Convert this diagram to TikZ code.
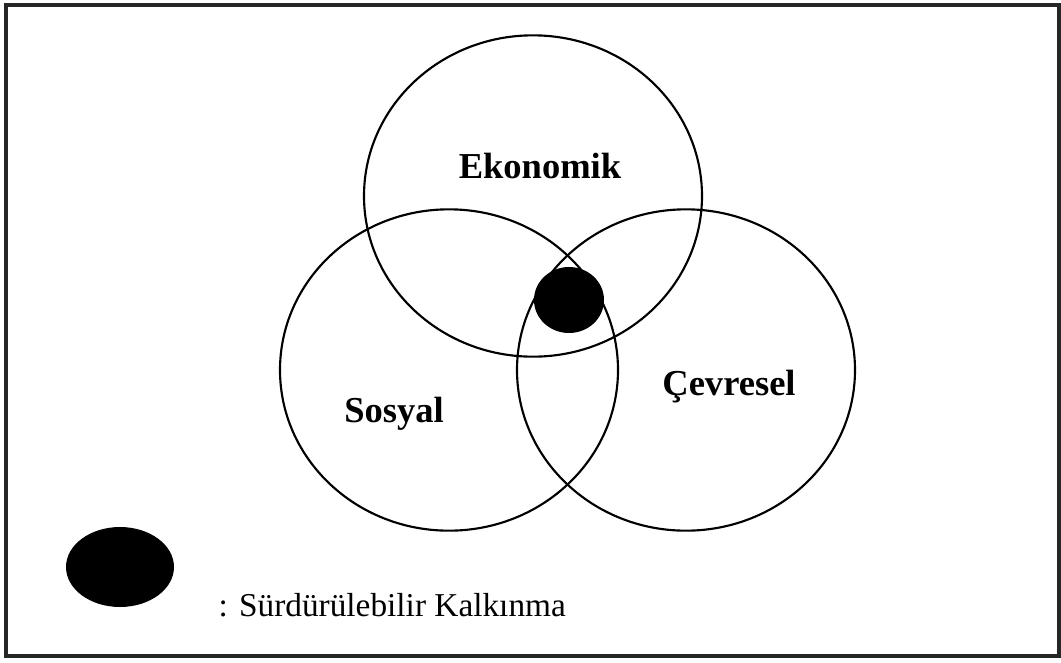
\documentclass[tikz,border=0pt]{standalone}
\usepackage{fontspec}
\setmainfont{Liberation Serif}
\usetikzlibrary{shapes.geometric}

\tikzset{
  pillar/.style={draw, ellipse, line width=1.6pt, inner sep=0pt,
                 minimum width=253.5pt, minimum height=241pt},
  core/.style={fill=black, ellipse, inner sep=0pt},
  pillarlabel/.style={anchor=base, font=\fontsize{27.4}{32}\selectfont\bfseries},
}

\begin{document}
\begin{tikzpicture}[x=0.75pt, y=-0.75pt]
  \useasboundingbox (0,0) rectangle (1061,662);
  % Frame
  \draw[line width=3pt, black!85] (6,4.5) rectangle (1058.5,656);

  % Three pillars
  \node[pillar] (eko) at (533,196) {};
  \node[pillar] (sos) at (449,370) {};
  \node[pillar] (cev) at (686,370) {};
  \node[pillarlabel] (ekolbl) at (540,178) {Ekonomik};
  \node[pillarlabel] (soslbl) at (394,422) {Sosyal};
  \node[pillarlabel] (cevlbl) at (729,395) {Çevresel};

  % Common core
  \node[core, minimum width=52.5pt, minimum height=49.5pt] (surd) at (569,300) {};

  % Legend
  \node[core, minimum width=81pt, minimum height=60pt] (key) at (120,567) {};
  \node[anchor=base west, font=\fontsize{25}{30}\selectfont] (keylbl) at (214,616)
    {: Sürdürülebilir Kalkınma};
\end{tikzpicture}
\end{document}
